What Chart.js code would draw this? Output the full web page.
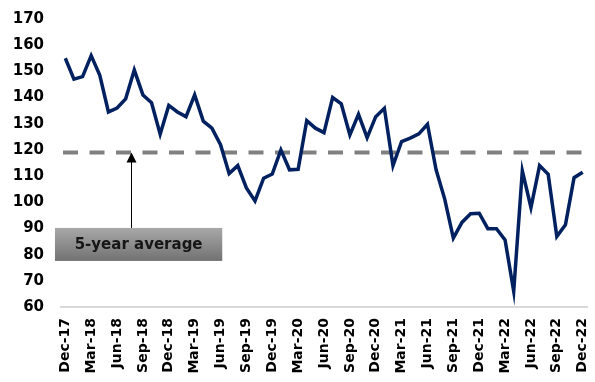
<!DOCTYPE html>
<html>
<head>
<meta charset="utf-8">
<script src="https://cdn.jsdelivr.net/npm/chart.js@4.4.1/dist/chart.umd.min.js"></script>
<style>
    html, body { margin: 0; padding: 0; background: #fff; }
    #wrap { width: 595px; height: 382px; position: relative; }
</style>
</head>
<body>
<div id="wrap"><canvas id="priceChart"></canvas></div>
<script>
const months = [
    'Dec-17',
    'Jan-18', 'Feb-18', 'Mar-18', 'Apr-18', 'May-18', 'Jun-18', 'Jul-18', 'Aug-18', 'Sep-18', 'Oct-18', 'Nov-18', 'Dec-18',
    'Jan-19', 'Feb-19', 'Mar-19', 'Apr-19', 'May-19', 'Jun-19', 'Jul-19', 'Aug-19', 'Sep-19', 'Oct-19', 'Nov-19', 'Dec-19',
    'Jan-20', 'Feb-20', 'Mar-20', 'Apr-20', 'May-20', 'Jun-20', 'Jul-20', 'Aug-20', 'Sep-20', 'Oct-20', 'Nov-20', 'Dec-20',
    'Jan-21', 'Feb-21', 'Mar-21', 'Apr-21', 'May-21', 'Jun-21', 'Jul-21', 'Aug-21', 'Sep-21', 'Oct-21', 'Nov-21', 'Dec-21',
    'Jan-22', 'Feb-22', 'Mar-22', 'Apr-22', 'May-22', 'Jun-22', 'Jul-22', 'Aug-22', 'Sep-22', 'Oct-22', 'Nov-22', 'Dec-22'
];

const values = [
    155,
    147, 148, 156, 148.5, 134.5, 136, 139.5, 150.5, 141, 138, 126, 137,
    134.5, 132.7, 141, 131, 128.3, 122, 111, 114, 105.5, 100.5, 109.2, 110.8,
    120, 112.4, 112.6, 131.2, 128.3, 126.6, 140, 137.6, 125.7, 133.6, 124.7, 132.7,
    135.9, 114, 123.2, 124.5, 126.1, 129.8, 112.4, 101.2, 86.3, 92.3, 95.6, 95.8,
    89.9, 89.9, 85.6, 66, 112, 98, 114, 110.7, 86.9, 91.4, 109.4, 111.5
];

// quarterly labels shown on the x axis
const tickMonths = [
    'Dec-17', 'Mar-18', 'Jun-18', 'Sep-18', 'Dec-18', 'Mar-19', 'Jun-19', 'Sep-19', 'Dec-19',
    'Mar-20', 'Jun-20', 'Sep-20', 'Dec-20', 'Mar-21', 'Jun-21', 'Sep-21', 'Dec-21',
    'Mar-22', 'Jun-22', 'Sep-22', 'Dec-22'
];

const yTicks = [60, 70, 80, 90, 100, 110, 120, 130, 140, 150, 160, 170];

const average = 119;
const averageLabel = '5-year average';

// label box and arrow, in axis units
const labelBox = { xFrom: -1.2, xTo: 18.2, yFrom: 77.6, yTo: 90.2 };
const arrowAt = 7.6;

const FONT = 'DejaVu Sans, Verdana, sans-serif';

const averagePlugin = {
    id: 'averageLine',
    beforeDatasetsDraw(chart) {
        const { ctx, chartArea, scales } = chart;
        const y = scales.y.getPixelForValue(average);
        ctx.save();
        ctx.strokeStyle = '#808080';
        ctx.lineWidth = 4;
        ctx.setLineDash([15, 11.5]);
        ctx.beginPath();
        ctx.moveTo(chartArea.left + 2, y);
        ctx.lineTo(chartArea.right - 2, y);
        ctx.stroke();
        ctx.restore();
    },
    afterDatasetsDraw(chart) {
        const { ctx, scales } = chart;
        const x = scales.x, y = scales.y;
        const left = x.getPixelForValue(labelBox.xFrom);
        const right = x.getPixelForValue(labelBox.xTo);
        const top = y.getPixelForValue(labelBox.yTo);
        const bottom = y.getPixelForValue(labelBox.yFrom);
        const ax = Math.round(x.getPixelForValue(arrowAt)) + 0.5;
        const tip = y.getPixelForValue(average);

        ctx.save();
        // arrow from the box up to the average line
        ctx.strokeStyle = '#000';
        ctx.lineWidth = 1;
        ctx.beginPath();
        ctx.moveTo(ax, top);
        ctx.lineTo(ax, tip + 8);
        ctx.stroke();
        ctx.fillStyle = '#000';
        ctx.beginPath();
        ctx.moveTo(ax, tip);
        ctx.lineTo(ax - 5, tip + 10);
        ctx.lineTo(ax + 5, tip + 10);
        ctx.closePath();
        ctx.fill();

        const grad = ctx.createLinearGradient(0, top, 0, bottom);
        grad.addColorStop(0, '#a8a8a8');
        grad.addColorStop(1, '#727272');
        ctx.fillStyle = grad;
        ctx.fillRect(left, top, right - left, bottom - top);

        ctx.fillStyle = '#161616';
        ctx.font = 'bold 15px ' + FONT;
        ctx.textAlign = 'center';
        ctx.textBaseline = 'middle';
        ctx.fillText(averageLabel, (left + right) / 2, (top + bottom) / 2 + 1);
        ctx.restore();
    }
};

new Chart(document.getElementById('priceChart'), {
    type: 'line',
    data: {
        labels: months,
        datasets: [{
            data: values,
            borderColor: '#002060',
            borderWidth: 3.5,
            pointRadius: 0,
            tension: 0,
            fill: false
        }]
    },
    options: {
        responsive: true,
        maintainAspectRatio: false,
        animation: false,
        layout: { padding: { top: 19, right: 8, bottom: 0, left: 0 } },
        plugins: {
            legend: { display: false },
            tooltip: { enabled: false }
        },
        scales: {
            x: {
                offset: true,
                grid: { display: false, drawTicks: false },
                border: { display: true, color: '#d9d9d9', width: 2 },
                afterFit(scale) {
                    scale.height = 75;
                    scale.paddingLeft = 0;
                    scale.paddingRight = 0;
                },
                ticks: {
                    autoSkip: false,
                    maxRotation: 90,
                    minRotation: 90,
                    padding: 11,
                    color: '#000',
                    font: { family: FONT, size: 14, weight: 'bold' },
                    callback(value, index) {
                        const m = months[index];
                        return tickMonths.includes(m) ? m : '';
                    }
                }
            },
            y: {
                min: yTicks[0],
                max: yTicks[yTicks.length - 1],
                afterBuildTicks(scale) {
                    scale.ticks = yTicks.map(v => ({ value: v }));
                },
                afterFit(scale) {
                    scale.width = 61;
                    scale.paddingTop = 0;
                    scale.paddingBottom = 0;
                },
                grid: { display: false, drawTicks: false },
                border: { display: false },
                ticks: {
                    padding: 17,
                    color: '#000',
                    font: { family: FONT, size: 15, weight: 'bold' }
                }
            }
        }
    },
    plugins: [averagePlugin]
});
</script>
</body>
</html>
